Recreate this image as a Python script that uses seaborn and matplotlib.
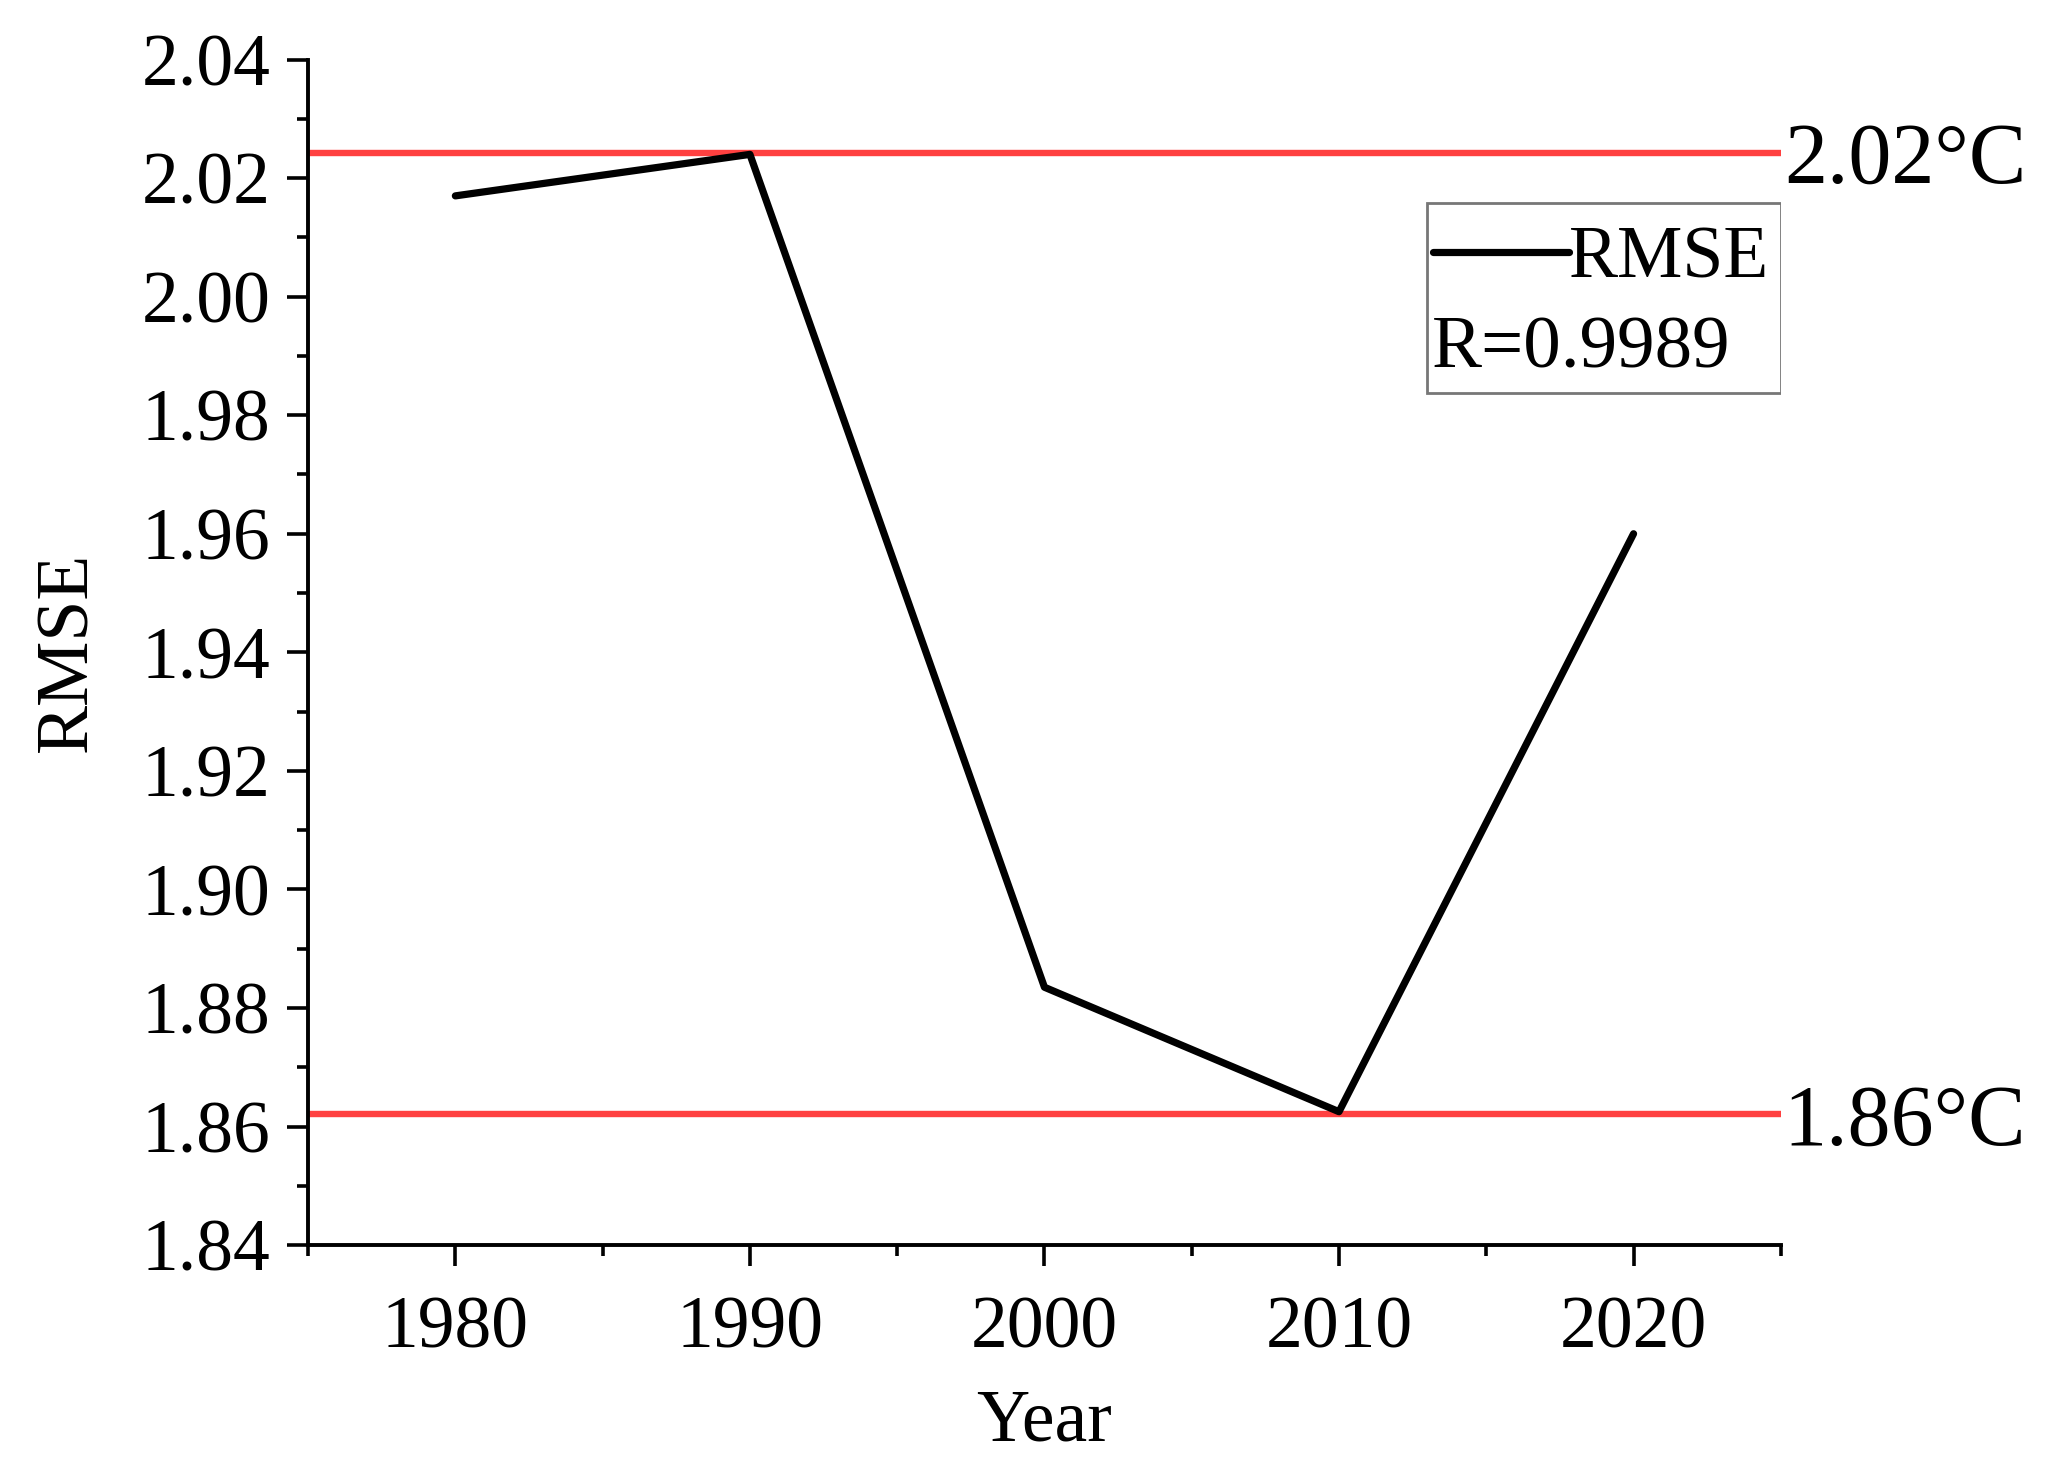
import matplotlib
matplotlib.use("Agg")
import matplotlib.pyplot as plt
import seaborn as sns
import pandas as pd
from matplotlib.patches import Rectangle
from matplotlib.lines import Line2D
from matplotlib.ticker import MultipleLocator, FormatStrFormatter

years = [1980, 1990, 2000, 2010, 2020]
rmse = [2.017, 2.024, 1.8835, 1.8625, 1.960]
max_val = 2.0243
min_val = 1.8621
max_label = "2.02°C"
min_label = "1.86°C"
r_label = "R=0.9989"
series_name = "RMSE"

sns.set_style("ticks")
plt.rcParams["font.family"] = ["Liberation Serif", "DejaVu Serif"]
plt.rcParams["text.color"] = "black"
plt.rcParams["axes.labelcolor"] = "black"
plt.rcParams["xtick.color"] = "black"
plt.rcParams["ytick.color"] = "black"

FS = 53
fig = plt.figure(figsize=(20.54, 14.70), dpi=100)
ax = fig.add_axes([0.150, 0.153, 0.717, 0.8065])

df = pd.DataFrame({"Year": years, "RMSE": rmse})
sns.lineplot(data=df, x="Year", y="RMSE", color="black", linewidth=5.2, ax=ax,
             legend=False, zorder=3)

red = "#ff4040"
ax.axhline(max_val, color=red, linewidth=4.6, zorder=2)
ax.axhline(min_val, color=red, linewidth=4.6, zorder=2)

ax.set_xlim(1975, 2025)
ax.set_ylim(1.84, 2.04)
ax.xaxis.set_major_locator(MultipleLocator(10))
ax.xaxis.set_minor_locator(MultipleLocator(5))
ax.yaxis.set_major_locator(MultipleLocator(0.02))
ax.yaxis.set_minor_locator(MultipleLocator(0.01))
ax.yaxis.set_major_formatter(FormatStrFormatter("%.2f"))

for s in ["top", "right"]:
    ax.spines[s].set_visible(False)
for s in ["left", "bottom"]:
    ax.spines[s].set_linewidth(2.8)
    ax.spines[s].set_color("black")

ax.tick_params(axis="both", which="major", direction="out", length=15, width=2.6,
               labelsize=FS, colors="black", pad=12)
ax.tick_params(axis="both", which="minor", direction="out", length=8, width=2.6,
               colors="black")
ax.tick_params(axis="x", which="major", pad=22)

ax.set_xlabel("Year", fontsize=FS, labelpad=18, color="black")
ax.set_ylabel("RMSE", fontsize=FS, labelpad=28, color="black")

# value labels at right of the axes
for val, lab in [(max_val, max_label), (min_val, min_label)]:
    ax.annotate(lab, xy=(1.002, val), xycoords=ax.get_yaxis_transform(),
                xytext=(0, -7), textcoords="offset points",
                fontsize=62, va="center", ha="left", color="black",
                annotation_clip=False)

# legend box
box = Rectangle((0.760, 0.719), 0.240, 0.160, transform=ax.transAxes,
                facecolor="white", edgecolor="#777777", linewidth=2, zorder=4)
ax.add_patch(box)
handle = Line2D([], [], color="black", linewidth=5.2)
leg = ax.legend([handle], [series_name], loc="center left",
                bbox_to_anchor=(0.764, 0.831), frameon=False, fontsize=FS,
                handlelength=1.85, handletextpad=0.0, borderpad=0.0,
                borderaxespad=0.0)
leg.set_zorder(5)
for t in leg.get_texts():
    t.set_color("black")
ax.text(0.763, 0.755, r_label, transform=ax.transAxes, fontsize=FS + 1,
        va="center", ha="left", zorder=5, color="black")

fig.savefig("out.png", dpi=100, facecolor="white")
